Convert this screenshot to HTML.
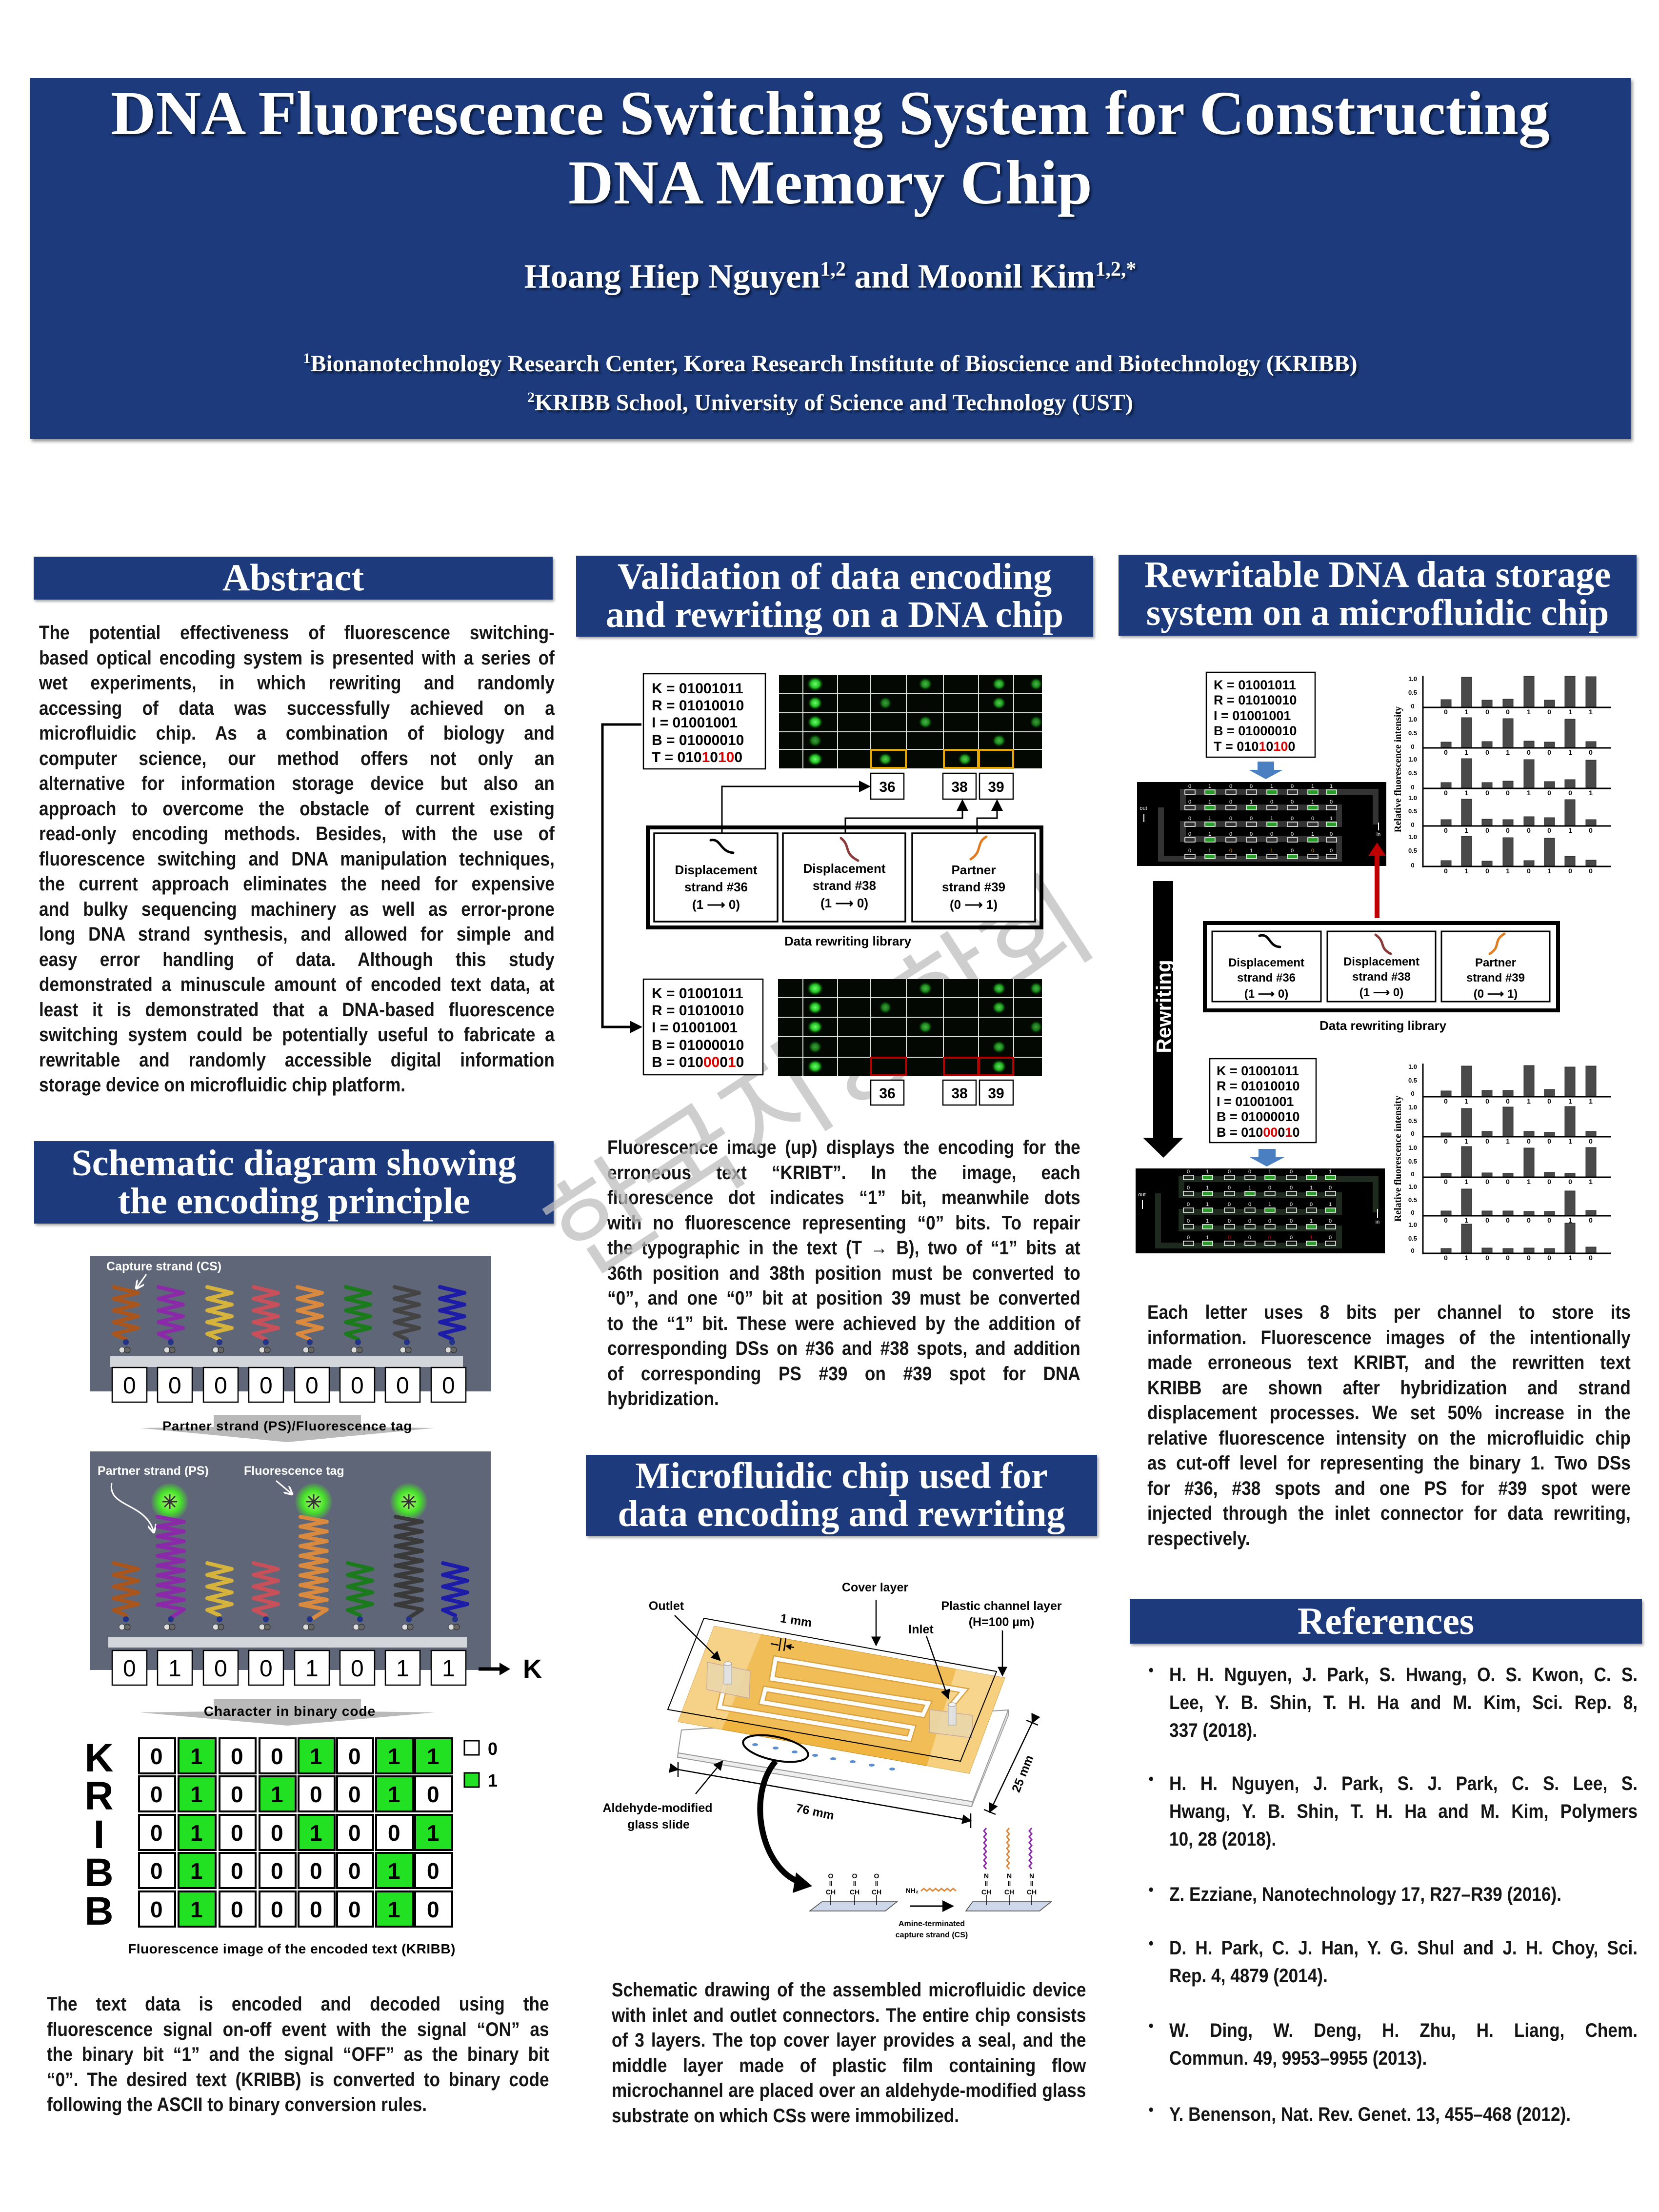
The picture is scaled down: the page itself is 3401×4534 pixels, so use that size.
<!DOCTYPE html>
<html><head><meta charset="utf-8">
<style>
html,body{margin:0;padding:0;background:#fff}
body{width:3401px;height:4534px;position:relative;overflow:hidden;font-family:"Liberation Sans",sans-serif}
.ab{position:absolute}
.ban{left:61px;top:160px;width:3282px;height:740px;background:#1d3b7c;box-shadow:4px 5px 6px #999}
.tt{position:absolute;left:0;width:100%;text-align:center;color:#fff;font-family:"Liberation Serif",serif;font-weight:bold;text-shadow:4px 4px 4px #0a1a3a;white-space:nowrap}
.hd{position:absolute;background:#1d3b7c;color:#fff;font-family:"Liberation Serif",serif;font-weight:bold;text-align:center;font-size:76px;line-height:78px;box-shadow:3px 4px 5px #aaa;white-space:nowrap}
.p{position:absolute;font-weight:bold;font-size:40px;color:#151515;transform:scaleX(0.88);transform-origin:0 0}
.p div{height:51.5px;line-height:51.5px;text-align:justify;text-align-last:justify}
.p div.l{text-align-last:left}
.r{position:absolute;font-weight:bold;font-size:40px;color:#151515;left:2397px;width:1091px;transform:scaleX(0.88);transform-origin:0 0}
.r div{height:57px;line-height:57px;text-align:justify;text-align-last:justify}
.r div.l{text-align-last:left}
.r b{position:absolute;left:-48px;font-size:32px}
svg text{font-family:"Liberation Sans",sans-serif}
.sf{font-family:"Liberation Serif",serif !important;font-weight:bold}
</style></head><body>

<div class="ab ban">
<div class="tt" style="top:2px;font-size:128px;line-height:140px">DNA Fluorescence Switching System for Constructing</div>
<div class="tt" style="top:144px;font-size:128px;line-height:140px">DNA Memory Chip</div>
<div class="tt" style="top:352px;font-size:70px;line-height:80px">Hoang Hiep Nguyen<sup style="font-size:42px">1,2</sup> and Moonil Kim<sup style="font-size:42px">1,2,*</sup></div>
<div class="tt" style="top:545px;font-size:48px;line-height:60px"><sup style="font-size:30px">1</sup>Bionanotechnology Research Center, Korea Research Institute of Bioscience and Biotechnology (KRIBB)</div>
<div class="tt" style="top:625px;font-size:48px;line-height:60px"><sup style="font-size:30px">2</sup>KRIBB School, University of Science and Technology (UST)</div>
</div>

<div class="hd" style="left:69px;top:1141px;width:1064px;height:88px;font-size:78px;line-height:86px">Abstract</div>
<div class="hd" style="left:1181px;top:1139px;width:1060px;height:166px;padding-top:4px;box-sizing:border-box">Validation of data encoding<br>and rewriting on a DNA chip</div>
<div class="hd" style="left:2293px;top:1137px;width:1062px;height:166px;padding-top:2px;box-sizing:border-box">Rewritable DNA data storage<br>system on a microfluidic chip</div>
<div class="hd" style="left:70px;top:2339px;width:1065px;height:169px;padding-top:6px;box-sizing:border-box">Schematic diagram showing<br>the encoding principle</div>
<div class="hd" style="left:1201px;top:2982px;width:1048px;height:166px;padding-top:4px;box-sizing:border-box">Microfluidic chip used for<br>data encoding and rewriting</div>
<div class="hd" style="left:2316px;top:3278px;width:1050px;height:91px;font-size:78px;line-height:90px">References</div>

<div class="p" style="left:80px;top:1272px;width:1201px">
<div>The potential effectiveness of fluorescence switching-</div>
<div>based optical encoding system is presented with a series of</div>
<div>wet experiments, in which rewriting and randomly</div>
<div>accessing of data was successfully achieved on a</div>
<div>microfluidic chip. As a combination of biology and</div>
<div>computer science, our method offers not only an</div>
<div>alternative for information storage device but also an</div>
<div>approach to overcome the obstacle of current existing</div>
<div>read-only encoding methods. Besides, with the use of</div>
<div>fluorescence switching and DNA manipulation techniques,</div>
<div>the current approach eliminates the need for expensive</div>
<div>and bulky sequencing machinery as well as error-prone</div>
<div>long DNA strand synthesis, and allowed for simple and</div>
<div>easy error handling of data. Although this study</div>
<div>demonstrated a minuscule amount of encoded text data, at</div>
<div>least it is demonstrated that a DNA-based fluorescence</div>
<div>switching system could be potentially useful to fabricate a</div>
<div>rewritable and randomly accessible digital information</div>
<div class="l">storage device on microfluidic chip platform.</div>
</div>

<div class="p" style="left:1245px;top:2327px;width:1102px">
<div>Fluorescence image (up) displays the encoding for the</div>
<div>erroneous text “KRIBT”. In the image, each</div>
<div>fluorescence dot indicates “1” bit, meanwhile dots</div>
<div>with no fluorescence representing “0” bits. To repair</div>
<div>the typographic in the text (T → B), two of “1” bits at</div>
<div>36th position and 38th position must be converted to</div>
<div>“0”, and one “0” bit at position 39 must be converted</div>
<div>to the “1” bit. These were achieved by the addition of</div>
<div>corresponding DSs on #36 and #38 spots, and addition</div>
<div>of corresponding PS #39 on #39 spot for DNA</div>
<div class="l">hybridization.</div>
</div>

<div class="p" style="left:2352px;top:2665px;width:1126px">
<div>Each letter uses 8 bits per channel to store its</div>
<div>information. Fluorescence images of the intentionally</div>
<div>made erroneous text KRIBT, and the rewritten text</div>
<div>KRIBB are shown after hybridization and strand</div>
<div>displacement processes. We set 50% increase in the</div>
<div>relative fluorescence intensity on the microfluidic chip</div>
<div>as cut-off level for representing the binary 1. Two DSs</div>
<div>for #36, #38 spots and one PS for #39 spot were</div>
<div>injected through the inlet connector for data rewriting,</div>
<div class="l">respectively.</div>
</div>

<div class="p" style="left:96px;top:4083px;width:1170px">
<div>The text data is encoded and decoded using the</div>
<div>fluorescence signal on-off event with the signal “ON” as</div>
<div>the binary bit “1” and the signal “OFF” as the binary bit</div>
<div>“0”. The desired text (KRIBB) is converted to binary code</div>
<div class="l">following the ASCII to binary conversion rules.</div>
</div>

<div class="p" style="left:1254px;top:4054px;width:1105px">
<div>Schematic drawing of the assembled microfluidic device</div>
<div>with inlet and outlet connectors. The entire chip consists</div>
<div>of 3 layers. The top cover layer provides a seal, and the</div>
<div>middle layer made of plastic film containing flow</div>
<div>microchannel are placed over an aldehyde-modified glass</div>
<div class="l">substrate on which CSs were immobilized.</div>
</div>

<div class="r" style="top:3405px"><b>•</b>
<div>H. H. Nguyen, J. Park, S. Hwang, O. S. Kwon, C. S.</div>
<div>Lee, Y. B. Shin, T. H. Ha and M. Kim, Sci. Rep. 8,</div>
<div class="l">337 (2018).</div></div>
<div class="r" style="top:3628px"><b>•</b>
<div>H. H. Nguyen, J. Park, S. J. Park, C. S. Lee, S.</div>
<div>Hwang, Y. B. Shin, T. H. Ha and M. Kim, Polymers</div>
<div class="l">10, 28 (2018).</div></div>
<div class="r" style="top:3855px"><b>•</b>
<div class="l">Z. Ezziane, Nanotechnology 17, R27–R39 (2016).</div></div>
<div class="r" style="top:3965px"><b>•</b>
<div>D. H. Park, C. J. Han, Y. G. Shul and J. H. Choy, Sci.</div>
<div class="l">Rep. 4, 4879 (2014).</div></div>
<div class="r" style="top:4134px"><b>•</b>
<div>W. Ding, W. Deng, H. Zhu, H. Liang, Chem.</div>
<div class="l">Commun. 49, 9953–9955 (2013).</div></div>
<div class="r" style="top:4306px"><b>•</b>
<div class="l">Y. Benenson, Nat. Rev. Genet. 13, 455–468 (2012).</div></div>

<svg class="ab" style="left:0;top:0" width="3401" height="4534" viewBox="0 0 3401 4534">
<defs>
<marker id="ah" markerWidth="8" markerHeight="8" refX="7" refY="4" orient="auto" markerUnits="strokeWidth"><path d="M0,0 L8,4 L0,8 z" fill="#000"/></marker>
<marker id="ah2" markerWidth="5" markerHeight="5" refX="4" refY="2.5" orient="auto" markerUnits="strokeWidth"><path d="M0,0 L5,2.5 L0,5 z" fill="#000"/></marker>
<marker id="aw" markerWidth="6" markerHeight="6" refX="5" refY="3" orient="auto" markerUnits="strokeWidth"><path d="M0,0 L6,3 L0,6" fill="none" stroke="#fff" stroke-width="1.2"/></marker>
<radialGradient id="gd"><stop offset="0" stop-color="#6dff6d"/><stop offset="0.55" stop-color="#22c022"/><stop offset="1" stop-color="#0a400a" stop-opacity="0"/></radialGradient>
<radialGradient id="gl"><stop offset="0" stop-color="#b8ff7a"/><stop offset="0.6" stop-color="#46e02a"/><stop offset="1" stop-color="#46e02a" stop-opacity="0.1"/></radialGradient>
<path id="hs" d="M-25,0 L25,12 L-25,24 L25,36 L-25,48 L25,60 L-25,72 L25,84 L-25,96 L0,107" fill="none" stroke-width="8" stroke-linejoin="round" stroke-linecap="round"/>
<path id="hl" d="M-27,0 L27,10 L-27,20 L27,30 L-27,40 L27,50 L-27,60 L27,70 L-27,80 L27,90 L-27,100 L27,110 L-27,120 L27,130 L-27,140 L27,150 L-27,160 L27,170 L-27,180 L27,190 L0,207" fill="none" stroke-width="8" stroke-linejoin="round" stroke-linecap="round"/>
<g id="nhc"><circle cx="0" cy="3" r="6" fill="#223388"/><circle cx="-8" cy="19" r="6" fill="#ddd" stroke="#333"/><circle cx="3" cy="19" r="6" fill="#666" stroke="#222"/></g>
</defs>

<text x="1680" y="2290" font-size="230" fill="#bdbdbd" fill-opacity="0.75" text-anchor="middle" transform="rotate(-33 1680 2210)" style="font-family:'Noto Sans CJK KR','NanumGothic',sans-serif">한국지능학회</text>

<rect x="184" y="2574" width="823" height="278" fill="#5f6677"/>
<text x="218" y="2604" font-size="25" font-weight="bold" fill="#fff">Capture strand (CS)</text>
<path d="M300,2612 L280,2640" stroke="#fff" stroke-width="3" marker-end="url(#aw)"/>
<g transform="translate(0,2638)">
<use href="#hs" x="258" stroke="#a8561e"/><use href="#hs" x="350" stroke="#8b2aa8"/><use href="#hs" x="450" stroke="#d6b33c"/><use href="#hs" x="545" stroke="#c8505a"/><use href="#hs" x="635" stroke="#d98a3e"/><use href="#hs" x="734" stroke="#1b7a1b"/><use href="#hs" x="834" stroke="#444"/><use href="#hs" x="927" stroke="#1c1ca8"/>
</g>
<g transform="translate(0,2748)"><use href="#nhc" x="258"/><use href="#nhc" x="350"/><use href="#nhc" x="450"/><use href="#nhc" x="545"/><use href="#nhc" x="635"/><use href="#nhc" x="734"/><use href="#nhc" x="834"/><use href="#nhc" x="927"/></g>
<rect x="226" y="2780" width="723" height="22" fill="#d3d6da"/>
<g fill="#fff" stroke="#000" stroke-width="2.5">
<rect x="230" y="2803" width="71" height="71"/><rect x="323" y="2803" width="71" height="71"/><rect x="417" y="2803" width="71" height="71"/><rect x="510" y="2803" width="71" height="71"/><rect x="604" y="2803" width="71" height="71"/><rect x="697" y="2803" width="71" height="71"/><rect x="790" y="2803" width="71" height="71"/><rect x="884" y="2803" width="71" height="71"/>
</g>
<text y="2856" font-size="48" x="252 345 439 532 626 719 812 906">00000000</text>

<polygon points="438,2900 740,2900 740,2925 891,2927 589,2956 287,2927 438,2925" fill="#b9b9b9"/>
<text x="589" y="2932" font-size="27" font-weight="bold" text-anchor="middle" letter-spacing="1">Partner strand (PS)/Fluorescence tag</text>

<rect x="184" y="2975" width="822" height="448" fill="#5f6677"/>
<text x="200" y="3023" font-size="25" font-weight="bold" fill="#fff">Partner strand (PS)</text>
<text x="500" y="3023" font-size="25" font-weight="bold" fill="#fff">Fluorescence tag</text>
<path d="M229,3040 C220,3090 300,3080 315,3140" fill="none" stroke="#fff" stroke-width="3" marker-end="url(#aw)"/>
<path d="M566,3035 L598,3062" stroke="#fff" stroke-width="3" marker-end="url(#aw)"/>
<circle cx="348" cy="3078" r="38" fill="url(#gl)"/><circle cx="643" cy="3078" r="38" fill="url(#gl)"/><circle cx="838" cy="3078" r="38" fill="url(#gl)"/>
<g stroke="#333" stroke-width="3"><path d="M333,3078 h30 M348,3063 v30 M337,3067 l22,22 M359,3067 l-22,22"/><path d="M628,3078 h30 M643,3063 v30 M632,3067 l22,22 M654,3067 l-22,22"/><path d="M823,3078 h30 M838,3063 v30 M827,3067 l22,22 M849,3067 l-22,22"/></g>
<g transform="translate(0,3204)"><use href="#hs" x="258" stroke="#a8561e"/><use href="#hs" x="450" stroke="#d6b33c"/><use href="#hs" x="545" stroke="#c8505a"/><use href="#hs" x="738" stroke="#1b7a1b"/><use href="#hs" x="933" stroke="#1c1ca8"/></g>
<g transform="translate(0,3109)"><use href="#hl" x="350" stroke="#8b2aa8"/><use href="#hl" x="643" stroke="#d98a3e"/><use href="#hl" x="838" stroke="#3a3a3a"/></g>
<g transform="translate(0,3316)"><use href="#nhc" x="258"/><use href="#nhc" x="350"/><use href="#nhc" x="450"/><use href="#nhc" x="545"/><use href="#nhc" x="635"/><use href="#nhc" x="738"/><use href="#nhc" x="838"/><use href="#nhc" x="933"/></g>
<rect x="222" y="3355" width="735" height="22" fill="#d3d6da"/>
<g fill="#fff" stroke="#000" stroke-width="2.5">
<rect x="230" y="3383" width="71" height="71"/><rect x="323" y="3383" width="71" height="71"/><rect x="417" y="3383" width="71" height="71"/><rect x="510" y="3383" width="71" height="71"/><rect x="604" y="3383" width="71" height="71"/><rect x="697" y="3383" width="71" height="71"/><rect x="790" y="3383" width="71" height="71"/><rect x="884" y="3383" width="71" height="71"/>
</g>
<text y="3436" font-size="48" x="252 345 439 532 626 719 812 906">01001011</text>
<path d="M981,3421 H1028" stroke="#000" stroke-width="7"/><polygon points="1024,3408 1046,3421 1024,3434" fill="#000"/>
<text x="1072" y="3439" font-size="54" font-weight="bold">K</text>

<polygon points="438,3483 740,3483 740,3508 891,3510 589,3537 287,3510 438,3508" fill="#b9b9b9"/>
<text x="594" y="3517" font-size="28" font-weight="bold" text-anchor="middle" letter-spacing="1">Character in binary code</text>

<g stroke="#000" stroke-width="4">
<g fill="#fff"><rect x="285" y="3563" width="74" height="72"/><rect x="450" y="3563" width="74" height="72"/><rect x="532" y="3563" width="74" height="72"/><rect x="691" y="3563" width="74" height="72"/></g>
<g fill="#22e022"><rect x="366" y="3563" width="76" height="72"/><rect x="612" y="3563" width="74" height="72"/><rect x="771" y="3563" width="76" height="72"/><rect x="851" y="3563" width="76" height="72"/></g>
<g fill="#fff"><rect x="285" y="3641" width="74" height="72"/><rect x="450" y="3641" width="74" height="72"/><rect x="612" y="3641" width="74" height="72"/><rect x="691" y="3641" width="74" height="72"/><rect x="851" y="3641" width="76" height="72"/></g>
<g fill="#22e022"><rect x="366" y="3641" width="76" height="72"/><rect x="532" y="3641" width="74" height="72"/><rect x="771" y="3641" width="76" height="72"/></g>
<g fill="#fff"><rect x="285" y="3720" width="74" height="72"/><rect x="450" y="3720" width="74" height="72"/><rect x="532" y="3720" width="74" height="72"/><rect x="691" y="3720" width="74" height="72"/><rect x="771" y="3720" width="76" height="72"/></g>
<g fill="#22e022"><rect x="366" y="3720" width="76" height="72"/><rect x="612" y="3720" width="74" height="72"/><rect x="851" y="3720" width="76" height="72"/></g>
<g fill="#fff"><rect x="285" y="3798" width="74" height="72"/><rect x="450" y="3798" width="74" height="72"/><rect x="532" y="3798" width="74" height="72"/><rect x="612" y="3798" width="74" height="72"/><rect x="691" y="3798" width="74" height="72"/><rect x="851" y="3798" width="76" height="72"/></g>
<g fill="#22e022"><rect x="366" y="3798" width="76" height="72"/><rect x="771" y="3798" width="76" height="72"/></g>
<g fill="#fff"><rect x="285" y="3877" width="74" height="72"/><rect x="450" y="3877" width="74" height="72"/><rect x="532" y="3877" width="74" height="72"/><rect x="612" y="3877" width="74" height="72"/><rect x="691" y="3877" width="74" height="72"/><rect x="851" y="3877" width="76" height="72"/></g>
<g fill="#22e022"><rect x="366" y="3877" width="76" height="72"/><rect x="771" y="3877" width="76" height="72"/></g>
<rect x="952" y="3568" width="30" height="29" fill="#fff" stroke-width="3"/>
<rect x="952" y="3634" width="30" height="29" fill="#22e022" stroke-width="3"/>
</g>
<g font-size="46" font-weight="bold">
<text y="3616" x="308 390 473 555 635 714 795 875">01001011</text>
<text y="3694" x="308 390 473 555 635 714 795 875">01010010</text>
<text y="3773" x="308 390 473 555 635 714 795 875">01001001</text>
<text y="3851" x="308 390 473 555 635 714 795 875">01000010</text>
<text y="3930" x="308 390 473 555 635 714 795 875">01000010</text>
</g>
<text x="1000" y="3597" font-size="36" font-weight="bold">0</text>
<text x="1000" y="3662" font-size="36" font-weight="bold">1</text>
<g font-size="82" font-weight="bold" text-anchor="middle">
<text x="203" y="3631">K</text><text x="203" y="3709">R</text><text x="203" y="3788">I</text><text x="203" y="3866">B</text><text x="203" y="3945">B</text>
</g>
<text x="598" y="4004" font-size="28" font-weight="bold" text-anchor="middle" letter-spacing="0.5">Fluorescence image of the encoded text (KRIBB)</text>

<rect x="1319" y="1381" width="250" height="195" fill="#fff" stroke="#000" stroke-width="2.5"/>
<g font-size="30" font-weight="bold">
<text x="1336" y="1421">K = 01001011</text>
<text x="1336" y="1456">R = 01010010</text>
<text x="1336" y="1491">I = 01001001</text>
<text x="1336" y="1527">B = 01000010</text>
<text x="1336" y="1562">T = 010<tspan fill="#d00">1</tspan>0<tspan fill="#d00">10</tspan>0</text>
</g>
<rect x="1597" y="1384" width="539" height="191" fill="#030803"/>
<g fill="url(#gd)">
<ellipse cx="1671" cy="1402" rx="17" ry="15"/><ellipse cx="1897" cy="1402" rx="14" ry="13" opacity=".7"/><ellipse cx="2048" cy="1402" rx="14" ry="13" opacity=".8"/><ellipse cx="2124" cy="1402" rx="13" ry="13" opacity=".7"/>
<ellipse cx="1671" cy="1441" rx="15" ry="14"/><ellipse cx="1815" cy="1441" rx="13" ry="13" opacity=".6"/><ellipse cx="2048" cy="1441" rx="14" ry="13" opacity=".8"/>
<ellipse cx="1671" cy="1480" rx="16" ry="14"/><ellipse cx="1897" cy="1480" rx="14" ry="13" opacity=".7"/><ellipse cx="2124" cy="1480" rx="13" ry="13" opacity=".6"/>
<ellipse cx="1671" cy="1518" rx="14" ry="13" opacity=".6"/><ellipse cx="2048" cy="1518" rx="14" ry="13" opacity=".7"/>
<ellipse cx="1671" cy="1556" rx="16" ry="14"/><ellipse cx="1815" cy="1556" rx="14" ry="13" opacity=".8"/><ellipse cx="1978" cy="1556" rx="14" ry="13" opacity=".8"/>
</g>
<g stroke="#ddd" stroke-width="2"><path d="M1646,1384V1575M1717,1384V1575M1785,1384V1575M1858,1384V1575M1934,1384V1575M2006,1384V1575M2078,1384V1575M1597,1421H2136M1597,1461H2136M1597,1500H2136M1597,1536H2136"/></g>
<g fill="none" stroke="#e5a800" stroke-width="4"><rect x="1786" y="1537" width="71" height="37"/><rect x="1935" y="1537" width="70" height="37"/><rect x="2007" y="1537" width="70" height="37"/></g>
<g fill="#fff" stroke="#000" stroke-width="2.5"><rect x="1785" y="1585" width="68" height="53"/><rect x="1933" y="1585" width="68" height="53"/><rect x="2008" y="1585" width="69" height="53"/></g>
<g font-size="30" font-weight="bold" text-anchor="middle"><text x="1819" y="1623">36</text><text x="1967" y="1623">38</text><text x="2042" y="1623">39</text></g>
<g fill="none" stroke="#000" stroke-width="3">
<path d="M1480,1708 V1612 H1782" marker-end="url(#ah)"/>
<path d="M1733,1708 V1677 H1973 V1641" marker-end="url(#ah)"/>
<path d="M2003,1708 V1677 H2044 V1641" marker-end="url(#ah)"/>
<path d="M1315,1485 H1235 V2105 H1312" stroke-width="5" marker-end="url(#ah2)"/>
</g>
<rect x="1328" y="1696" width="807" height="205" fill="none" stroke="#000" stroke-width="8"/>
<g fill="#fff" stroke="#000" stroke-width="3.5"><rect x="1341" y="1708" width="253" height="181"/><rect x="1605" y="1708" width="251" height="181"/><rect x="1870" y="1708" width="252" height="181"/></g>
<g fill="none" stroke-width="5" stroke-linecap="round"><path d="M1457,1722 C1478,1718 1476,1746 1503,1748" stroke="#000"/><path d="M1724,1718 C1745,1735 1728,1748 1759,1764" stroke="#8b3a3a"/><path d="M2022,1715 C2000,1728 2015,1745 1990,1761" stroke="#e07b20"/></g>
<g font-size="26" font-weight="bold" text-anchor="middle">
<text x="1468" y="1792">Displacement</text><text x="1468" y="1827">strand #36</text><text x="1468" y="1863">(1 ⟶ 0)</text>
<text x="1731" y="1789">Displacement</text><text x="1731" y="1824">strand #38</text><text x="1731" y="1860">(1 ⟶ 0)</text>
<text x="1996" y="1792">Partner</text><text x="1996" y="1827">strand #39</text><text x="1996" y="1863">(0 ⟶ 1)</text>
</g>
<text x="1738" y="1938" font-size="26" font-weight="bold" text-anchor="middle">Data rewriting library</text>

<rect x="1319" y="2007" width="245" height="196" fill="#fff" stroke="#000" stroke-width="2.5"/>
<g font-size="30" font-weight="bold">
<text x="1336" y="2046">K = 01001011</text>
<text x="1336" y="2081">R = 01010010</text>
<text x="1336" y="2116">I = 01001001</text>
<text x="1336" y="2152">B = 01000010</text>
<text x="1336" y="2187">B = 010<tspan fill="#d00">00</tspan>0<tspan fill="#d00">1</tspan>0</text>
</g>
<rect x="1595" y="2007" width="541" height="198" fill="#030803"/>
<g fill="url(#gd)">
<ellipse cx="1671" cy="2026" rx="17" ry="15"/><ellipse cx="1897" cy="2026" rx="14" ry="13" opacity=".7"/><ellipse cx="2048" cy="2026" rx="14" ry="13" opacity=".8"/><ellipse cx="2124" cy="2026" rx="13" ry="13" opacity=".7"/>
<ellipse cx="1671" cy="2065" rx="15" ry="14"/><ellipse cx="1815" cy="2065" rx="13" ry="13" opacity=".6"/><ellipse cx="2048" cy="2065" rx="14" ry="13" opacity=".8"/>
<ellipse cx="1671" cy="2105" rx="16" ry="14"/><ellipse cx="1897" cy="2105" rx="14" ry="13" opacity=".7"/><ellipse cx="2124" cy="2105" rx="13" ry="13" opacity=".6"/>
<ellipse cx="1671" cy="2146" rx="14" ry="13" opacity=".6"/><ellipse cx="2048" cy="2146" rx="14" ry="13" opacity=".7"/>
<ellipse cx="1671" cy="2186" rx="16" ry="14"/><ellipse cx="2048" cy="2186" rx="15" ry="14" opacity=".9"/>
</g>
<g stroke="#ddd" stroke-width="2"><path d="M1646,2007V2205M1717,2007V2205M1785,2007V2205M1858,2007V2205M1934,2007V2205M2006,2007V2205M2078,2007V2205M1595,2045H2136M1595,2085H2136M1595,2125H2136M1595,2167H2136"/></g>
<g fill="none" stroke="#b00000" stroke-width="4"><rect x="1786" y="2168" width="71" height="36"/><rect x="1935" y="2168" width="70" height="36"/><rect x="2007" y="2168" width="70" height="36"/></g>
<g fill="#fff" stroke="#000" stroke-width="2.5"><rect x="1785" y="2214" width="68" height="51"/><rect x="1933" y="2214" width="68" height="51"/><rect x="2008" y="2214" width="69" height="51"/></g>
<g font-size="30" font-weight="bold" text-anchor="middle"><text x="1819" y="2251">36</text><text x="1967" y="2251">38</text><text x="2042" y="2251">39</text></g>

<polygon points="1397,3546 2067,3505 1994,3693 1390,3593" fill="#fff" stroke="#999" stroke-width="2"/>
<polygon points="1390,3593 1994,3693 1992,3703 1389,3602" fill="#eee" stroke="#999" stroke-width="2"/>
<polygon points="1994,3693 2067,3505 2068,3515 1992,3703" fill="#ddd" stroke="#999" stroke-width="1.5"/>
<polygon points="1464,3333 2060,3439 1987,3635 1390,3529" fill="#f0b440" stroke="#c98a1e" stroke-width="1"/>
<polygon points="1464,3333 1560,3350 1480,3545 1390,3529" fill="#f8dca0" opacity=".6"/>
<polygon points="1960,3421 2060,3439 1987,3635 1900,3620" fill="#fae2a8" opacity=".6"/>
<polyline points="1492,3426 1475,3499 1864,3564 1871,3541 1562,3489 1569,3462 1892,3515 1903,3491 1583,3441 1590,3400 1976,3465 1952,3494" fill="none" stroke="#d69628" stroke-width="13" stroke-linejoin="miter"/>
<polyline points="1492,3426 1475,3499 1864,3564 1871,3541 1562,3489 1569,3462 1892,3515 1903,3491 1583,3441 1590,3400 1976,3465 1952,3494" fill="none" stroke="#fff" stroke-width="8" stroke-linejoin="miter"/>
<polygon points="1450,3407 1538,3425 1536,3481 1449,3463" fill="#e8d2a0" stroke="#b99" stroke-width="1.5" opacity=".9"/>
<polygon points="1906,3504 1994,3516 1992,3562 1905,3551" fill="#e8d2a0" stroke="#b99" stroke-width="1.5" opacity=".9"/>
<rect x="1484" y="3410" width="16" height="42" fill="#ddd" stroke="#999"/><ellipse cx="1492" cy="3410" rx="8" ry="4" fill="#eee" stroke="#888"/>
<rect x="1944" y="3494" width="16" height="42" fill="#ddd" stroke="#999"/><ellipse cx="1952" cy="3494" rx="8" ry="4" fill="#eee" stroke="#888"/>
<polygon points="1443,3317 2043,3426 1969,3610 1369,3504" fill="#fff" fill-opacity="0.12" stroke="#000" stroke-width="2"/>
<g fill="#5b8ed0"><ellipse cx="1548" cy="3576" rx="6" ry="3"/><ellipse cx="1590" cy="3583" rx="6" ry="3"/><ellipse cx="1629" cy="3591" rx="6" ry="3"/><ellipse cx="1671" cy="3598" rx="6" ry="3"/><ellipse cx="1708" cy="3605" rx="6" ry="3"/><ellipse cx="1748" cy="3611" rx="6" ry="3"/><ellipse cx="1787" cy="3618" rx="6" ry="3"/><ellipse cx="1829" cy="3626" rx="6" ry="3"/></g>
<ellipse cx="1590" cy="3584" rx="68" ry="24" fill="none" stroke="#000" stroke-width="4" transform="rotate(12 1590 3584)"/>
<path d="M1590,3610 C1530,3680 1560,3830 1640,3858" fill="none" stroke="#000" stroke-width="12"/>
<polygon points="1632,3838 1665,3866 1625,3880" fill="#000"/>
<g stroke="#000" stroke-width="2.5" fill="none">
<path d="M1383,3311 L1476,3403" marker-end="url(#ah)"/>
<path d="M1796,3279 L1796,3372" marker-end="url(#ah)"/>
<path d="M2055,3342 L2055,3434" marker-end="url(#ah)"/>
<path d="M1899,3353 L1944,3481" marker-end="url(#ah)"/>
<path d="M1426,3677 L1481,3610" marker-end="url(#ah)"/>
<path d="M1390,3627 L1990,3732" marker-start="url(#ah)" marker-end="url(#ah)"/>
<path d="M1390,3612 V3642 M1990,3717 V3747"/>
<path d="M2116,3531 L2029,3714" marker-start="url(#ah)" marker-end="url(#ah)"/>
<path d="M2104,3526 L2128,3536 M2017,3709 L2041,3719"/>
<path d="M1601,3358 L1597,3384 M1611,3358 L1607,3384"/>
<path d="M1580,3369 L1596,3372 M1628,3377 L1612,3374" marker-end="url(#ah2)"/>
</g>
<g font-size="25" font-weight="bold" text-anchor="middle">
<text x="1794" y="3262">Cover layer</text>
<text x="1366" y="3300">Outlet</text>
<text x="2053" y="3300">Plastic channel layer</text>
<text x="2053" y="3333">(H=100 µm)</text>
<text x="1888" y="3348">Inlet</text>
<text x="1632" y="3330" transform="rotate(9 1632 3322)">1 mm</text>
<text x="1671" y="3722" transform="rotate(12 1671 3713)">76 mm</text>
<text x="2095" y="3645" transform="rotate(-68 2095 3635)">25 mm</text>
<text x="1348" y="3714">Aldehyde-modified</text>
<text x="1350" y="3748">glass slide</text>
</g>
<polygon points="1685,3898 1839,3898 1815,3917 1660,3917" fill="#cdd8ea" stroke="#444" stroke-width="1.5"/>
<polygon points="1994,3898 2155,3898 2131,3917 1980,3917" fill="#cdd8ea" stroke="#444" stroke-width="1.5"/>
<g stroke="#000" stroke-width="1.5"><path d="M1703,3884 V3905 M1752,3884 V3905 M1797,3884 V3905 M2022,3884 V3905 M2069,3884 V3905 M2115,3884 V3905"/></g>
<path d="M1866,3907 H1953" stroke="#000" stroke-width="3" marker-end="url(#ah)"/>
<g font-size="14" font-weight="bold" text-anchor="middle">
<text x="1703" y="3850">O</text><text x="1752" y="3850">O</text><text x="1797" y="3850">O</text>
<text x="1703" y="3866">‖</text><text x="1752" y="3866">‖</text><text x="1797" y="3866">‖</text>
<text x="1703" y="3883">CH</text><text x="1752" y="3883">CH</text><text x="1797" y="3883">CH</text>
<text x="2022" y="3850">N</text><text x="2069" y="3850">N</text><text x="2115" y="3850">N</text>
<text x="2022" y="3866">‖</text><text x="2069" y="3866">‖</text><text x="2115" y="3866">‖</text>
<text x="2022" y="3883">CH</text><text x="2069" y="3883">CH</text><text x="2115" y="3883">CH</text>
<text x="1870" y="3880">NH₂</text>
<text x="1910" y="3948" font-size="16">Amine-terminated</text>
<text x="1910" y="3971" font-size="16">capture strand (CS)</text>
</g>
<g fill="none" stroke-width="3">
<path d="M1888,3876 l6,-5 l6,5 l6,-5 l6,5 l6,-5 l6,5 l6,-5 l6,5 l6,-5 l6,5 l6,-5 l6,5" stroke="#d98a3e"/>
<path d="M2022,3747 l-5,6 l5,6 l-5,6 l5,6 l-5,6 l5,6 l-5,6 l5,6 l-5,6 l5,6 l-5,6 l5,6 l-5,6 l5,6" stroke="#8b2aa8"/>
<path d="M2069,3747 l-5,6 l5,6 l-5,6 l5,6 l-5,6 l5,6 l-5,6 l5,6 l-5,6 l5,6 l-5,6 l5,6 l-5,6 l5,6" stroke="#d98a3e"/>
<path d="M2115,3747 l-5,6 l5,6 l-5,6 l5,6 l-5,6 l5,6 l-5,6 l5,6 l-5,6 l5,6 l-5,6 l5,6 l-5,6 l5,6" stroke="#8b2aa8"/>
</g>

<rect x="2473" y="1378" width="223" height="174" fill="#fff" stroke="#000" stroke-width="2.5"/>
<g font-size="27" font-weight="bold">
<text x="2488" y="1413">K = 01001011</text><text x="2488" y="1444">R = 01010010</text><text x="2488" y="1476">I = 01001001</text><text x="2488" y="1507">B = 01000010</text><text x="2488" y="1539">T = 010<tspan fill="#d00">1</tspan>0<tspan fill="#d00">10</tspan>0</text>
</g>
<rect x="2578" y="1561" width="34" height="18" fill="#4a7fc1"/><polygon points="2560,1578 2630,1578 2595,1597" fill="#4a7fc1"/>
<rect x="2331" y="1603" width="511" height="172" fill="#000"/>
<g fill="none" stroke="#333" stroke-width="12">
<path d="M2380,1655 V1760 H2745 V1720 H2425 V1689 H2745 V1655 H2425 V1623 H2820 V1690"/>
</g>
<g stroke="#fff" stroke-width="1.5" fill="none">
<g transform="translate(0,1619)"><rect x="2429" width="21" height="9"/><rect x="2470" width="21" height="9" fill="#2a9a2a"/><rect x="2513" width="21" height="9"/><rect x="2555" width="21" height="9"/><rect x="2597" width="21" height="9" fill="#2a9a2a"/><rect x="2639" width="21" height="9"/><rect x="2681" width="21" height="9" fill="#2a9a2a"/><rect x="2719" width="21" height="9" fill="#2a9a2a"/></g>
<g transform="translate(0,1651)"><rect x="2429" width="21" height="9"/><rect x="2470" width="21" height="9" fill="#2a9a2a"/><rect x="2513" width="21" height="9"/><rect x="2555" width="21" height="9" fill="#2a9a2a"/><rect x="2597" width="21" height="9"/><rect x="2639" width="21" height="9"/><rect x="2681" width="21" height="9" fill="#2a9a2a"/><rect x="2719" width="21" height="9"/></g>
<g transform="translate(0,1685)"><rect x="2429" width="21" height="9"/><rect x="2470" width="21" height="9" fill="#2a9a2a"/><rect x="2513" width="21" height="9"/><rect x="2555" width="21" height="9"/><rect x="2597" width="21" height="9" fill="#2a9a2a"/><rect x="2639" width="21" height="9"/><rect x="2681" width="21" height="9"/><rect x="2719" width="21" height="9" fill="#2a9a2a"/></g>
<g transform="translate(0,1717)"><rect x="2429" width="21" height="9"/><rect x="2470" width="21" height="9" fill="#2a9a2a"/><rect x="2513" width="21" height="9"/><rect x="2555" width="21" height="9"/><rect x="2597" width="21" height="9"/><rect x="2639" width="21" height="9"/><rect x="2681" width="21" height="9" fill="#2a9a2a"/><rect x="2719" width="21" height="9"/></g>
<g transform="translate(0,1751)"><rect x="2429" width="21" height="9"/><rect x="2470" width="21" height="9" fill="#2a9a2a"/><rect x="2513" width="21" height="9"/><rect x="2555" width="21" height="9" fill="#2a9a2a"/><rect x="2597" width="21" height="9"/><rect x="2639" width="21" height="9" fill="#2a9a2a"/><rect x="2681" width="21" height="9"/><rect x="2719" width="21" height="9"/></g>
</g>
<g font-size="11" fill="#fff" text-anchor="middle">
<text y="1615" x="2439 2480 2523 2565 2607 2649 2691 2729">01001011</text>
<text y="1647" x="2439 2480 2523 2565 2607 2649 2691 2729">01010010</text>
<text y="1681" x="2439 2480 2523 2565 2607 2649 2691 2729">01001001</text>
<text y="1713" x="2439 2480 2523 2565 2607 2649 2691 2729">01000010</text>
<text y="1747" x="2439 2480 2523 2565 2607 2649 2691 2729">01<tspan fill="#e5a800">0</tspan>1<tspan fill="#e5a800">1</tspan>0<tspan fill="#e5a800">0</tspan>0</text>
<text x="2344" y="1660">out</text><text x="2826" y="1714">in</text>
</g>
<path d="M2345,1685 V1668 M2826,1702 V1686" stroke="#fff" stroke-width="2"/>
<path d="M2823,1882 V1750" stroke="#c00000" stroke-width="10"/><polygon points="2805,1754 2841,1754 2823,1727" fill="#c00000"/>
<rect x="2470" y="1892" width="724" height="179" fill="#fff" stroke="#000" stroke-width="8"/>
<g fill="#fff" stroke="#000" stroke-width="3"><rect x="2485" y="1909" width="223" height="144"/><rect x="2721" y="1909" width="222" height="144"/><rect x="2955" y="1909" width="222" height="144"/></g>
<g fill="none" stroke-width="5" stroke-linecap="round"><path d="M2582,1918 C2604,1912 2600,1940 2624,1941" stroke="#000"/><path d="M2820,1916 C2842,1932 2826,1942 2851,1955" stroke="#8b3a3a"/><path d="M3084,1914 C3060,1928 3078,1940 3054,1955" stroke="#e07b20"/></g>
<g font-size="24" font-weight="bold" text-anchor="middle">
<text x="2596" y="1981">Displacement</text><text x="2596" y="2012">strand #36</text><text x="2596" y="2045">(1 ⟶ 0)</text>
<text x="2832" y="1979">Displacement</text><text x="2832" y="2010">strand #38</text><text x="2832" y="2042">(1 ⟶ 0)</text>
<text x="3066" y="1981">Partner</text><text x="3066" y="2012">strand #39</text><text x="3066" y="2045">(0 ⟶ 1)</text>
</g>
<text x="2835" y="2111" font-size="26" font-weight="bold" text-anchor="middle">Data rewriting library</text>
<rect x="2364" y="1806" width="41" height="527" fill="#000"/><polygon points="2343,2332 2426,2332 2385,2373" fill="#000"/>
<text x="2385" y="2078" font-size="42" font-weight="bold" fill="#fff" text-anchor="middle" transform="rotate(-90 2385 2063)">Rewriting</text>
<rect x="2480" y="2170" width="218" height="172" fill="#fff" stroke="#000" stroke-width="2.5"/>
<g font-size="27" font-weight="bold">
<text x="2494" y="2204">K = 01001011</text><text x="2494" y="2235">R = 01010010</text><text x="2494" y="2267">I = 01001001</text><text x="2494" y="2298">B = 01000010</text><text x="2494" y="2330">B = 010<tspan fill="#d00">00</tspan>0<tspan fill="#d00">1</tspan>0</text>
</g>
<rect x="2580" y="2355" width="35" height="18" fill="#4a7fc1"/><polygon points="2562,2372 2633,2372 2597,2391" fill="#4a7fc1"/>
<rect x="2328" y="2395" width="511" height="174" fill="#000"/>
<g fill="none" stroke="#1e2a1e" stroke-width="12">
<path d="M2374,2446 V2553 H2745 V2518 H2422 V2484 H2745 V2450 H2422 V2417 H2820 V2485"/>
</g>
<g stroke="#fff" stroke-width="1.5" fill="none">
<g transform="translate(0,2409)"><rect x="2426" width="21" height="9"/><rect x="2465" width="21" height="9" fill="#2a9a2a"/><rect x="2510" width="21" height="9"/><rect x="2552" width="21" height="9"/><rect x="2593" width="21" height="9" fill="#2a9a2a"/><rect x="2637" width="21" height="9"/><rect x="2678" width="21" height="9" fill="#2a9a2a"/><rect x="2717" width="21" height="9" fill="#2a9a2a"/></g>
<g transform="translate(0,2442)"><rect x="2426" width="21" height="9"/><rect x="2465" width="21" height="9" fill="#2a9a2a"/><rect x="2510" width="21" height="9"/><rect x="2552" width="21" height="9" fill="#2a9a2a"/><rect x="2593" width="21" height="9"/><rect x="2637" width="21" height="9"/><rect x="2678" width="21" height="9" fill="#2a9a2a"/><rect x="2717" width="21" height="9"/></g>
<g transform="translate(0,2476)"><rect x="2426" width="21" height="9"/><rect x="2465" width="21" height="9" fill="#2a9a2a"/><rect x="2510" width="21" height="9"/><rect x="2552" width="21" height="9"/><rect x="2593" width="21" height="9" fill="#2a9a2a"/><rect x="2637" width="21" height="9"/><rect x="2678" width="21" height="9"/><rect x="2717" width="21" height="9" fill="#2a9a2a"/></g>
<g transform="translate(0,2510)"><rect x="2426" width="21" height="9"/><rect x="2465" width="21" height="9" fill="#2a9a2a"/><rect x="2510" width="21" height="9"/><rect x="2552" width="21" height="9"/><rect x="2593" width="21" height="9"/><rect x="2637" width="21" height="9"/><rect x="2678" width="21" height="9" fill="#2a9a2a"/><rect x="2717" width="21" height="9"/></g>
<g transform="translate(0,2544)"><rect x="2426" width="21" height="9"/><rect x="2465" width="21" height="9" fill="#2a9a2a"/><rect x="2510" width="21" height="9"/><rect x="2552" width="21" height="9"/><rect x="2593" width="21" height="9"/><rect x="2637" width="21" height="9"/><rect x="2678" width="21" height="9" fill="#2a9a2a"/><rect x="2717" width="21" height="9"/></g>
</g>
<g font-size="11" fill="#fff" text-anchor="middle">
<text y="2405" x="2436 2475 2520 2562 2603 2647 2688 2727">01001011</text>
<text y="2438" x="2436 2475 2520 2562 2603 2647 2688 2727">01010010</text>
<text y="2472" x="2436 2475 2520 2562 2603 2647 2688 2727">01001001</text>
<text y="2506" x="2436 2475 2520 2562 2603 2647 2688 2727">01000010</text>
<text y="2540" x="2436 2475 2520 2562 2603 2647 2688 2727">01<tspan fill="#e00">0</tspan>0<tspan fill="#e00">0</tspan>0<tspan fill="#e00">1</tspan>0</text>
<text x="2341" y="2452">out</text><text x="2824" y="2508">in</text>
</g>
<path d="M2342,2478 V2460 M2824,2496 V2478" stroke="#fff" stroke-width="2"/>

<g fill="#4a4a4a" stroke="#222" stroke-width="1">
<g transform="translate(0,1450)"><rect x="2954" y="-16" width="21" height="16"/><rect x="2996" y="-62" width="21" height="62"/><rect x="3038" y="-15" width="21" height="15"/><rect x="3081" y="-17" width="21" height="17"/><rect x="3124" y="-64" width="21" height="64"/><rect x="3166" y="-15" width="21" height="15"/><rect x="3208" y="-64" width="21" height="64"/><rect x="3251" y="-63" width="21" height="63"/></g>
<g transform="translate(0,1533)"><rect x="2954" y="-12" width="21" height="12"/><rect x="2996" y="-62" width="21" height="62"/><rect x="3038" y="-13" width="21" height="13"/><rect x="3081" y="-60" width="21" height="60"/><rect x="3124" y="-14" width="21" height="14"/><rect x="3166" y="-12" width="21" height="12"/><rect x="3208" y="-59" width="21" height="59"/><rect x="3251" y="-13" width="21" height="13"/></g>
<g transform="translate(0,1616)"><rect x="2954" y="-12" width="21" height="12"/><rect x="2996" y="-61" width="21" height="61"/><rect x="3038" y="-12" width="21" height="12"/><rect x="3081" y="-15" width="21" height="15"/><rect x="3124" y="-59" width="21" height="59"/><rect x="3166" y="-14" width="21" height="14"/><rect x="3208" y="-18" width="21" height="18"/><rect x="3251" y="-58" width="21" height="58"/></g>
<g transform="translate(0,1693)"><rect x="2954" y="-13" width="21" height="13"/><rect x="2996" y="-55" width="21" height="55"/><rect x="3038" y="-14" width="21" height="14"/><rect x="3081" y="-13" width="21" height="13"/><rect x="3124" y="-19" width="21" height="19"/><rect x="3166" y="-17" width="21" height="17"/><rect x="3208" y="-54" width="21" height="54"/><rect x="3251" y="-13" width="21" height="13"/></g>
<g transform="translate(0,1776)"><rect x="2954" y="-12" width="21" height="12"/><rect x="2996" y="-62" width="21" height="62"/><rect x="3038" y="-11" width="21" height="11"/><rect x="3081" y="-59" width="21" height="59"/><rect x="3124" y="-12" width="21" height="12"/><rect x="3166" y="-58" width="21" height="58"/><rect x="3208" y="-21" width="21" height="21"/><rect x="3251" y="-13" width="21" height="13"/></g>
</g>
<g stroke="#000" stroke-width="3"><path d="M2917,1385 V1778 M2917,1450 H3303 M2917,1533 H3303 M2917,1616 H3303 M2917,1693 H3303 M2917,1776 H3303"/></g>
<g class="sf" font-size="13" text-anchor="middle">
<text x="2896" y="1396">1.0</text><text x="2896" y="1424">0.5</text><text x="2896" y="1452">0</text>
<text x="2896" y="1479">1.0</text><text x="2896" y="1507">0.5</text><text x="2896" y="1535">0</text>
<text x="2896" y="1561">1.0</text><text x="2896" y="1589">0.5</text><text x="2896" y="1618">0</text>
<text x="2896" y="1640">1.0</text><text x="2896" y="1667">0.5</text><text x="2896" y="1695">0</text>
<text x="2896" y="1720">1.0</text><text x="2896" y="1748">0.5</text><text x="2896" y="1778">0</text>
</g>
<g class="sf" font-size="14" text-anchor="middle">
<text y="1464" x="2964 3006 3049 3091 3134 3176 3219 3261">01001011</text>
<text y="1547" x="2964 3006 3049 3091 3134 3176 3219 3261">01010010</text>
<text y="1630" x="2964 3006 3049 3091 3134 3176 3219 3261">01001001</text>
<text y="1707" x="2964 3006 3049 3091 3134 3176 3219 3261">01000010</text>
<text y="1790" x="2964 3006 3049 3091 3134 3176 3219 3261">01010100</text>
</g>
<text class="sf" x="2865" y="1584" font-size="20" text-anchor="middle" transform="rotate(-90 2865 1577)">Relative fluorescence intensity</text>

<g fill="#4a4a4a" stroke="#222" stroke-width="1">
<g transform="translate(0,2248)"><rect x="2954" y="-12" width="21" height="12"/><rect x="2996" y="-63" width="21" height="63"/><rect x="3038" y="-13" width="21" height="13"/><rect x="3081" y="-13" width="21" height="13"/><rect x="3124" y="-64" width="21" height="64"/><rect x="3166" y="-15" width="21" height="15"/><rect x="3208" y="-61" width="21" height="61"/><rect x="3251" y="-63" width="21" height="63"/></g>
<g transform="translate(0,2330)"><rect x="2954" y="-8" width="21" height="8"/><rect x="2996" y="-58" width="21" height="58"/><rect x="3038" y="-11" width="21" height="11"/><rect x="3081" y="-61" width="21" height="61"/><rect x="3124" y="-11" width="21" height="11"/><rect x="3166" y="-9" width="21" height="9"/><rect x="3208" y="-62" width="21" height="62"/><rect x="3251" y="-11" width="21" height="11"/></g>
<g transform="translate(0,2413)"><rect x="2954" y="-8" width="21" height="8"/><rect x="2996" y="-63" width="21" height="63"/><rect x="3038" y="-9" width="21" height="9"/><rect x="3081" y="-8" width="21" height="8"/><rect x="3124" y="-60" width="21" height="60"/><rect x="3166" y="-10" width="21" height="10"/><rect x="3208" y="-8" width="21" height="8"/><rect x="3251" y="-61" width="21" height="61"/></g>
<g transform="translate(0,2492)"><rect x="2954" y="-10" width="21" height="10"/><rect x="2996" y="-55" width="21" height="55"/><rect x="3038" y="-10" width="21" height="10"/><rect x="3081" y="-10" width="21" height="10"/><rect x="3124" y="-9" width="21" height="9"/><rect x="3166" y="-9" width="21" height="9"/><rect x="3208" y="-51" width="21" height="51"/><rect x="3251" y="-11" width="21" height="11"/></g>
<g transform="translate(0,2569)"><rect x="2954" y="-10" width="21" height="10"/><rect x="2996" y="-60" width="21" height="60"/><rect x="3038" y="-11" width="21" height="11"/><rect x="3081" y="-10" width="21" height="10"/><rect x="3124" y="-11" width="21" height="11"/><rect x="3166" y="-10" width="21" height="10"/><rect x="3208" y="-62" width="21" height="62"/><rect x="3251" y="-13" width="21" height="13"/></g>
</g>
<g stroke="#000" stroke-width="3"><path d="M2917,2180 V2571 M2917,2248 H3303 M2917,2330 H3303 M2917,2413 H3303 M2917,2492 H3303 M2917,2569 H3303"/></g>
<g class="sf" font-size="13" text-anchor="middle">
<text x="2896" y="2191">1.0</text><text x="2896" y="2219">0.5</text><text x="2896" y="2246">0</text>
<text x="2896" y="2274">1.0</text><text x="2896" y="2302">0.5</text><text x="2896" y="2328">0</text>
<text x="2896" y="2357">1.0</text><text x="2896" y="2385">0.5</text><text x="2896" y="2411">0</text>
<text x="2896" y="2437">1.0</text><text x="2896" y="2464">0.5</text><text x="2896" y="2490">0</text>
<text x="2896" y="2515">1.0</text><text x="2896" y="2543">0.5</text><text x="2896" y="2568">0</text>
</g>
<g class="sf" font-size="14" text-anchor="middle">
<text y="2262" x="2964 3006 3049 3091 3134 3176 3219 3261">01001011</text>
<text y="2344" x="2964 3006 3049 3091 3134 3176 3219 3261">01010010</text>
<text y="2427" x="2964 3006 3049 3091 3134 3176 3219 3261">01001001</text>
<text y="2506" x="2964 3006 3049 3091 3134 3176 3219 3261">01000010</text>
<text y="2583" x="2964 3006 3049 3091 3134 3176 3219 3261">01000010</text>
</g>
<text class="sf" x="2865" y="2382" font-size="20" text-anchor="middle" transform="rotate(-90 2865 2375)">Relative fluorescence intensity</text>
</svg>
</body></html>
